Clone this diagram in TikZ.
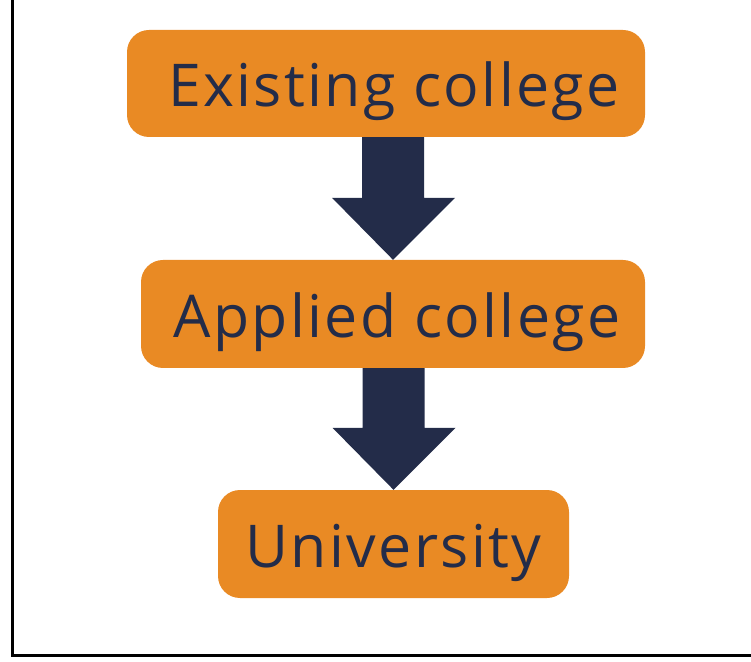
\documentclass[tikz,border=0pt]{standalone}
\usepackage{fontspec}
\setmainfont{Open Sans}[LetterSpace=4]
\usetikzlibrary{calc}
\definecolor{boxorange}{RGB}{233,138,36}
\definecolor{navy}{RGB}{35,44,73}
% fat down arrow from the bottom of #1 to the top of #2
\newcommand{\fatarrow}[2]{%
  \fill[navy] ($(#1.south -| #2.north)+(-31,0)$) -- ($(#2.north)+(-31,62)$)
    -- ($(#2.north)+(-61,62)$) -- (#2.north) -- ($(#2.north)+(62,62)$)
    -- ($(#2.north)+(31,62)$) -- ($(#1.south -| #2.north)+(31,0)$) -- cycle;}
\begin{document}
\begin{tikzpicture}[x=1pt, y=1pt,
    stage/.style={fill=boxorange, rounded corners=22pt, text=navy, inner sep=0pt,
      minimum height=108pt, text height=47pt, text depth=0pt,
      font=\fontsize{59}{70}\selectfont}]
        \useasboundingbox (0,0) rectangle (751,661);

        \node[stage, minimum width=518pt, minimum height=107pt] (exist) at (386, 577.5) {\hspace*{16pt}Existing college};
        \node[stage, minimum width=504pt] (applied) at (393, 347) {\hspace*{8pt}Applied college};
        \node[stage, minimum width=351pt] (univ) at (393.5, 117) {University};

        \fatarrow{exist}{applied}
        \fatarrow{applied}{univ}

        \draw[line width=3pt] (12.5, 661) -- (12.5, 6) -- (751, 6);

    \end{tikzpicture}
\end{document}
